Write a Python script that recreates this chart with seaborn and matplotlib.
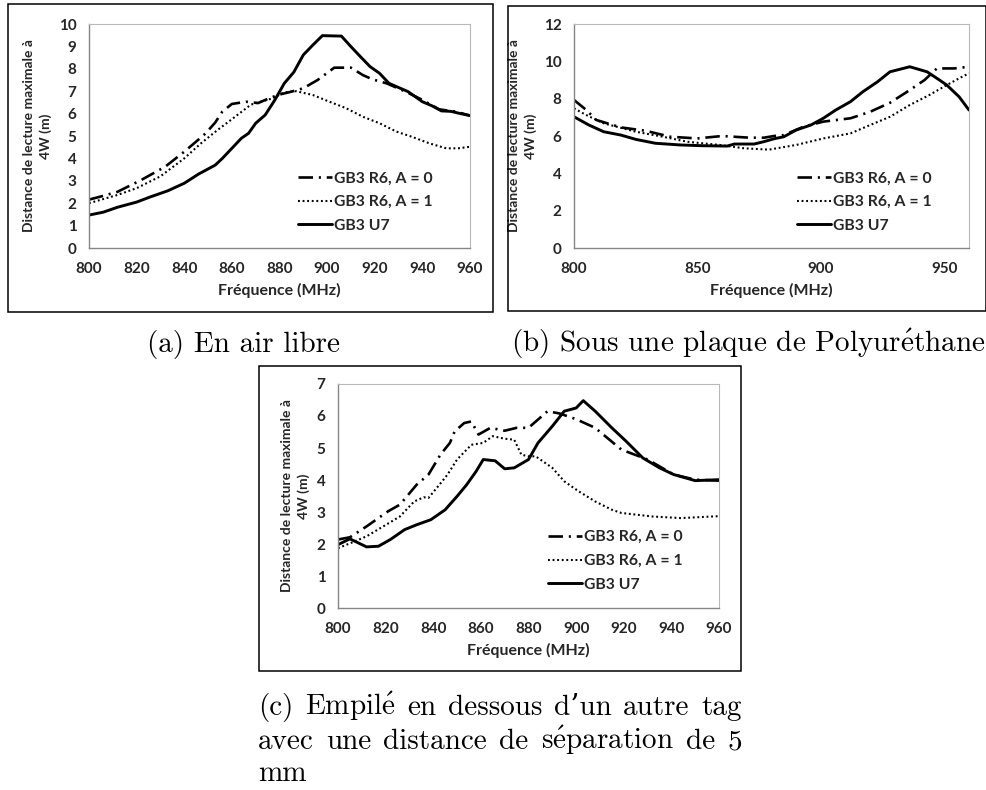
import numpy as np
import pandas as pd
import seaborn as sns
import matplotlib.pyplot as plt
from matplotlib.patches import Rectangle

# ---- (a) En air libre ----
a_f_r0 = [800, 805, 812, 822, 832, 840, 845, 849, 853, 856, 860, 866, 871, 876, 880, 885, 890, 896, 903, 910, 915, 919, 925, 933, 940, 947, 954, 960]
a_r0   = [2.16, 2.3, 2.51, 3.04, 3.63, 4.3, 4.75, 5.12, 5.6, 6.09, 6.43, 6.53, 6.47, 6.7, 6.85, 6.98, 7.13, 7.5, 8.05, 8.05, 7.72, 7.53, 7.35, 6.98, 6.61, 6.19, 6.09, 5.91]
a_f_r1 = [800, 812, 820, 830, 840, 847, 854, 860, 868, 877, 882, 887, 894, 901, 908, 915, 922, 929, 936, 943, 950, 955, 960]
a_r1   = [2.0, 2.37, 2.67, 3.2, 4.0, 4.67, 5.27, 5.75, 6.4, 6.68, 6.95, 7.0, 6.83, 6.53, 6.24, 5.86, 5.57, 5.2, 4.95, 4.67, 4.45, 4.45, 4.52]
a_f_u7 = [800, 806, 812, 820, 826, 833, 840, 846, 853, 856, 860, 864, 867, 870, 874, 878, 882, 886, 890, 894, 898, 906, 910, 914, 918, 922, 926, 934, 940, 944, 948, 952, 956, 960]
a_u7   = [1.47, 1.6, 1.82, 2.05, 2.29, 2.55, 2.89, 3.3, 3.7, 4.0, 4.45, 4.9, 5.12, 5.57, 5.94, 6.6, 7.35, 7.85, 8.62, 9.06, 9.48, 9.46, 8.99, 8.54, 8.1, 7.8, 7.35, 6.98, 6.53, 6.35, 6.12, 6.1, 6.0, 5.91]

# ---- (b) Sous une plaque de Polyurethane ----
b_f_r0 = [800, 805, 809, 819, 829, 839, 850, 860, 871, 877, 881, 885, 893, 901, 912, 920, 928, 936, 942, 947, 954, 960]
b_r0   = [7.93, 7.39, 6.86, 6.46, 6.28, 5.96, 5.87, 6.0, 5.91, 5.91, 6.0, 6.05, 6.5, 6.77, 6.95, 7.3, 7.78, 8.46, 9.0, 9.62, 9.62, 9.71]
b_f_r1 = [800, 805, 812, 825, 836, 846, 859, 869, 879, 890, 901, 912, 920, 928, 936, 944, 951, 956, 960]
b_r1   = [7.48, 7.12, 6.68, 6.23, 5.96, 5.69, 5.52, 5.34, 5.27, 5.52, 5.87, 6.14, 6.59, 7.03, 7.66, 8.2, 8.73, 9.09, 9.36]
b_f_u7 = [800, 806, 812, 819, 825, 833, 843, 852, 862, 865, 873, 877, 881, 885, 890, 896, 901, 906, 912, 917, 923, 928, 936, 943, 947, 951, 956, 960]
b_u7   = [7.03, 6.59, 6.23, 6.05, 5.82, 5.61, 5.52, 5.48, 5.46, 5.57, 5.57, 5.7, 5.85, 5.96, 6.32, 6.59, 6.95, 7.39, 7.84, 8.37, 8.91, 9.44, 9.71, 9.44, 9.09, 8.73, 8.1, 7.39]

# ---- (c) Empile en dessous d'un autre tag ----
c_f_r0 = [800, 805, 812, 821, 826, 833, 838, 843, 847, 849, 853, 856, 859, 864, 870, 875, 880, 888, 893, 900, 908, 919, 930, 941, 950, 960]
c_r0   = [2.14, 2.21, 2.55, 3.02, 3.23, 3.85, 4.17, 4.79, 5.16, 5.52, 5.78, 5.83, 5.42, 5.63, 5.54, 5.63, 5.63, 6.15, 6.08, 5.9, 5.63, 4.95, 4.64, 4.17, 4.01, 3.98]
c_f_r1 = [800, 807, 812, 819, 826, 832, 836, 838, 842, 846, 850, 856, 861, 865, 870, 874, 877, 880, 883, 890, 895, 901, 908, 915, 919, 932, 944, 960]
c_r1   = [1.87, 2.08, 2.24, 2.55, 2.86, 3.33, 3.46, 3.44, 3.8, 4.17, 4.64, 5.1, 5.16, 5.37, 5.29, 5.26, 4.79, 4.74, 4.74, 4.38, 3.96, 3.65, 3.33, 3.07, 2.97, 2.86, 2.81, 2.87]
c_f_u7 = [800, 805, 812, 817, 822, 828, 833, 839, 845, 850, 854, 858, 861, 866, 870, 874, 880, 884, 890, 895, 900, 903, 908, 915, 921, 928, 935, 941, 950, 960]
c_u7   = [1.98, 2.16, 1.91, 1.93, 2.14, 2.45, 2.6, 2.76, 3.07, 3.49, 3.85, 4.27, 4.64, 4.6, 4.35, 4.38, 4.64, 5.16, 5.68, 6.15, 6.25, 6.48, 6.15, 5.63, 5.21, 4.69, 4.38, 4.17, 3.98, 4.01]

labels = ["GB3 R6, A = 0", "GB3 R6, A = 1", "GB3 U7"]
E_AIGU = r"$\mathrm{\acute{e}}$"
captions = ["(a) En air libre", "(b) Sous une plaque de Polyur" + E_AIGU + "thane"]
caption_c = [["(c)", "Empil" + E_AIGU, "en", "dessous", "d’un", "autre", "tag"],
             ["avec", "une", "distance", "de", "s" + E_AIGU + "paration", "de", "5"],
             ["mm"]]

sns.set_style("white")
plt.rcParams["font.family"] = ["Lato", "DejaVu Sans"]
plt.rcParams["font.weight"] = "bold"
plt.rcParams["mathtext.fontset"] = "cm"

W, H = 987, 790
fig = plt.figure(figsize=(W / 100, H / 100), dpi=100)


def px(x0, y0, x1, y1):
    # pixel box -> figure fraction [left, bottom, width, height]
    return [x0 / W, 1 - y1 / H, (x1 - x0) / W, (y1 - y0) / H]


def panel(rect, series, xticks, yticks, ymax, leg_xy):
    ax = fig.add_axes(rect)
    styles = [dict(linestyle=(0, (5.5, 2.2, 0.8, 2.2)), lw=1.9),
              dict(linestyle=(0, (0.9, 1.3)), lw=1.5),
              dict(linestyle="-", lw=2.1)]
    for (f, v), lab, st in zip(series, labels, styles):
        df = pd.DataFrame({"f": f, "v": v})
        sns.lineplot(data=df, x="f", y="v", ax=ax, color="black", label=lab,
                     estimator=None, sort=True, **st)
    ax.set_xlim(800, 960)
    ax.set_ylim(0, ymax)
    ax.set_xticks(xticks)
    ax.set_yticks(yticks)
    ax.set_xlabel("Fréquence (MHz)", fontsize=11.5, fontweight="bold", color="#262626", labelpad=5)
    ax.set_ylabel("Distance de lecture maximale à\n4W (m)", fontsize=10, fontweight="bold",
                  color="#262626", labelpad=5, linespacing=1.4)
    ax.tick_params(axis="both", direction="out", length=4, width=0.8, color="#868686",
                   labelsize=11, labelcolor="#262626", pad=5)
    ax.tick_params(axis="x", pad=6)
    for s in ["left", "bottom"]:
        ax.spines[s].set_color("#868686")
        ax.spines[s].set_linewidth(1.0)
    for s in ["top", "right"]:
        ax.spines[s].set_color("#b8b8b8")
        ax.spines[s].set_linewidth(0.8)
    ax.legend(loc="upper left", bbox_to_anchor=leg_xy, frameon=False, fontsize=11.3,
              handlelength=2.15, handletextpad=0.12, labelspacing=0.62, borderpad=0,
              borderaxespad=0)
    return ax


panel(px(89, 24, 470, 248),
      [(a_f_r0, a_r0), (a_f_r1, a_r1), (a_f_u7, a_u7)],
      range(800, 961, 20), range(0, 11), 10, (0.549, 0.342))
panel(px(574, 24, 969, 248),
      [(b_f_r0, b_r0), (b_f_r1, b_r1), (b_f_u7, b_u7)],
      [800, 850, 900, 950], range(0, 13, 2), 12, (0.565, 0.342))
panel(px(338, 384, 719, 608),
      [(c_f_r0, c_r0), (c_f_r1, c_r1), (c_f_u7, c_u7)],
      range(800, 961, 20), range(0, 8), 7, (0.551, 0.347))

# chart frames
for x0, y0, x1, y1 in [(8, 4, 493, 312), (508, 6, 986, 311), (259, 366, 741, 671)]:
    b = px(x0, y0, x1, y1)
    fig.add_artist(Rectangle((b[0], b[1]), b[2], b[3], transform=fig.transFigure,
                             fill=False, ec="black", lw=1.1))

# captions
cap_font = dict(family=["cmr10", "DejaVu Serif"], fontsize=21, fontweight="normal", color="black")
fig.text(244 / W, 1 - 352 / H, captions[0], ha="center", va="baseline", **cap_font)
fig.text(748 / W, 1 - 352 / H, captions[1], ha="center", va="baseline", **cap_font)

fig.canvas.draw()
rend = fig.canvas.get_renderer()
x_left, x_right = 258, 742
for i, (words, yb) in enumerate(zip(caption_c, [715, 749, 781])):
    ts = [fig.text(0, 1 - yb / H, w, ha="left", va="baseline", **cap_font) for w in words]
    widths = [t.get_window_extent(rend).width for t in ts]
    if i < 2:
        gap = (x_right - x_left - sum(widths)) / (len(words) - 1)
    else:
        gap = 0
    x = x_left
    for t, w in zip(ts, widths):
        t.set_x(x / W)
        x += w + gap

fig.savefig("out.png", dpi=100)
